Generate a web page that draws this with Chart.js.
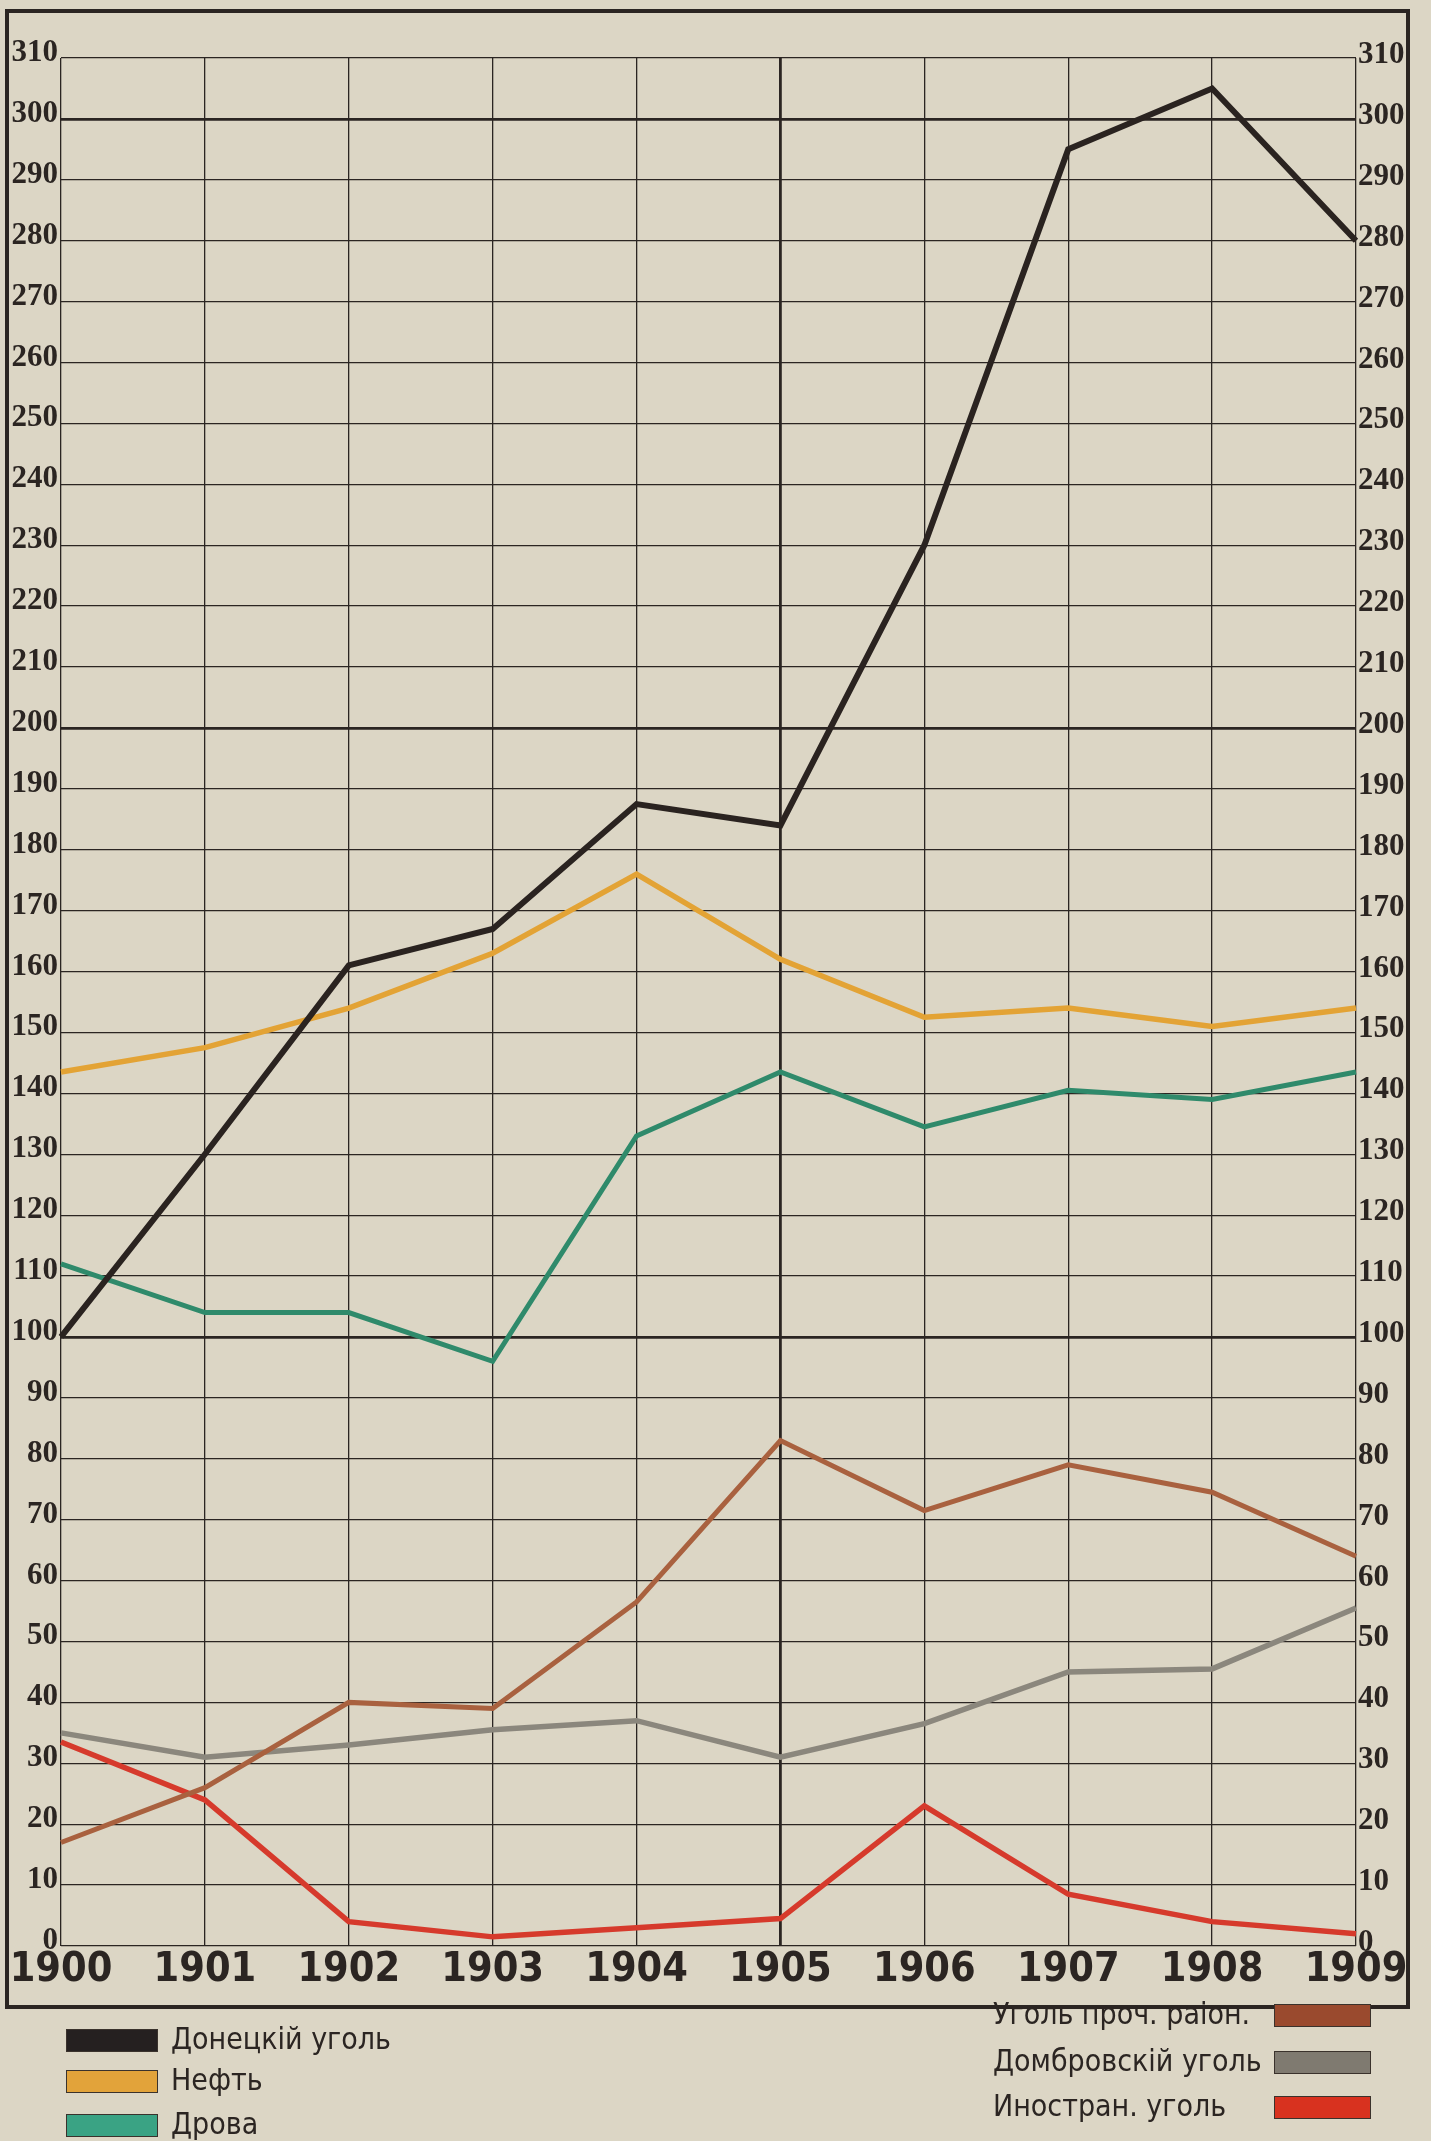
<!DOCTYPE html>
<html><head><meta charset="utf-8">
<script src="https://cdn.jsdelivr.net/npm/chart.js@4.4.1/dist/chart.umd.min.js"></script>
<style>
html,body{margin:0;padding:0;background:#dcd6c5;}
body{width:1431px;height:2141px;position:relative;overflow:hidden;}
#frame{position:absolute;left:5px;top:9px;width:1405px;height:2000px;border:4px solid #2b2522;box-sizing:border-box;pointer-events:none;}
#c{position:absolute;left:0;top:0;}
.leg{position:absolute;font-family:"DejaVu Sans Condensed","DejaVu Sans",sans-serif;font-size:30px;color:#2b2522;line-height:30px;white-space:nowrap;}
.sw{position:absolute;height:23px;border:1.5px solid #3a322c;box-sizing:border-box;}
</style></head>
<body>
<canvas id="c" width="1431" height="2141"></canvas>
<div id="frame"></div>
<div id="legend"></div>
<script>
// ---- data ----
const years = ['1900','1901','1902','1903','1904','1905','1906','1907','1908','1909'];
const donetskCoal = [100,130,161,167,187.5,184,230,295,305,280];
const oil = [143.5,147.5,154,163,176,162,152.5,154,151,154];
const firewood = [112,104,104,96,133,143.5,134.5,140.5,139,143.5];
const otherCoal = [17,26,40,39,56.5,83,71.5,79,74.5,64];
const dombrowaCoal = [35,31,33,35.5,37,31,36.5,45,45.5,55.5];
const foreignCoal = [33.5,24,4,1.5,3,4.5,23,8.5,4,2];
const seriesNames = ['Донецкій уголь','Нефть','Дрова','Уголь проч. раіон.','Домбровскій уголь','Иностран. уголь'];
const yMin = 0, yMax = 310, yStep = 10;

const lineColors = ['#2a2320','#e3a335','#2f8a6b','#a9613f','#8b877d','#d63a2c'];
const swatchColors = ['#252020','#e2a33a','#3aa384','#9a4a2e','#7f7a70','#d8321f'];
const widths = [6,5.5,5,5,5.5,5.5];
const seriesData = [donetskCoal, oil, firewood, otherCoal, dombrowaCoal, foreignCoal];

const ink = '#2b2522';
const datasets = seriesData.map((d,i)=>({
  label: seriesNames[i], data: d, borderColor: lineColors[i], backgroundColor: lineColors[i],
  borderWidth: widths[i], pointRadius: 0, tension: 0, borderJoinStyle: 'miter', fill: false,
  order: i===0 ? 0 : 1
}));

const yTickFont = {family: '"Liberation Serif", "DejaVu Serif", serif', size: 31, weight: 'bold'};

new Chart(document.getElementById('c'), {
  type: 'line',
  data: {labels: years, datasets},
  options: {
    responsive: false, animation: false, devicePixelRatio: 1,
    layout: {padding: {top: 58, left: 0, right: 20, bottom: 135}},
    plugins: {legend: {display: false}, tooltip: {enabled: false}},
    scales: {
      x: {
        type: 'category', offset: false,
        border: {display: false},
        grid: {drawTicks: false, color: ink,
               lineWidth: ctx => (ctx.index === 5 ? 2.8 : 1.3)},
        ticks: {color: ink, padding: 0, autoSkip: false, maxRotation: 0,
                font: {family: '"DejaVu Sans Condensed", "DejaVu Sans", sans-serif', size: 41, weight: 'bold'}},
        afterFit: s => { s.height = 60; }
      },
      y: {
        position: 'left', min: yMin, max: yMax,
        border: {display: false},
        grid: {drawTicks: false, color: ink,
               lineWidth: ctx => (ctx.tick && ctx.tick.value > 0 && ctx.tick.value % 100 === 0 ? 2.8 : 1.3)},
        ticks: {stepSize: yStep, color: ink, padding: 3, labelOffset: -5, font: yTickFont},
        afterFit: s => { s.width = 61; }
      },
      y2: {
        position: 'right', min: yMin, max: yMax,
        border: {display: false},
        grid: {display: false, drawTicks: false},
        ticks: {stepSize: yStep, color: ink, padding: 2, labelOffset: -3, font: yTickFont},
        afterFit: s => { s.width = 55; }
      }
    }
  }
});

// ---- legend (HTML text) ----
const legend = document.getElementById('legend');
const leftRows = [2040, 2081, 2125];
const rightRows = [2015, 2062, 2107];
seriesNames.forEach((name, i) => {
  const sw = document.createElement('div');
  sw.className = 'sw';
  sw.style.background = swatchColors[i];
  const tx = document.createElement('div');
  tx.className = 'leg';
  tx.textContent = name;
  if (i < 3) {
    const cy = leftRows[i];
    sw.style.left = '66px'; sw.style.width = '92px'; sw.style.top = (cy - 11) + 'px';
    tx.style.left = '171px'; tx.style.top = (cy - 16) + 'px';
  } else {
    const cy = rightRows[i - 3];
    sw.style.left = '1274px'; sw.style.width = '97px'; sw.style.top = (cy - 11) + 'px';
    tx.style.left = '993px'; tx.style.top = (cy - 16) + 'px';
  }
  legend.appendChild(sw); legend.appendChild(tx);
});
</script>
</body></html>
